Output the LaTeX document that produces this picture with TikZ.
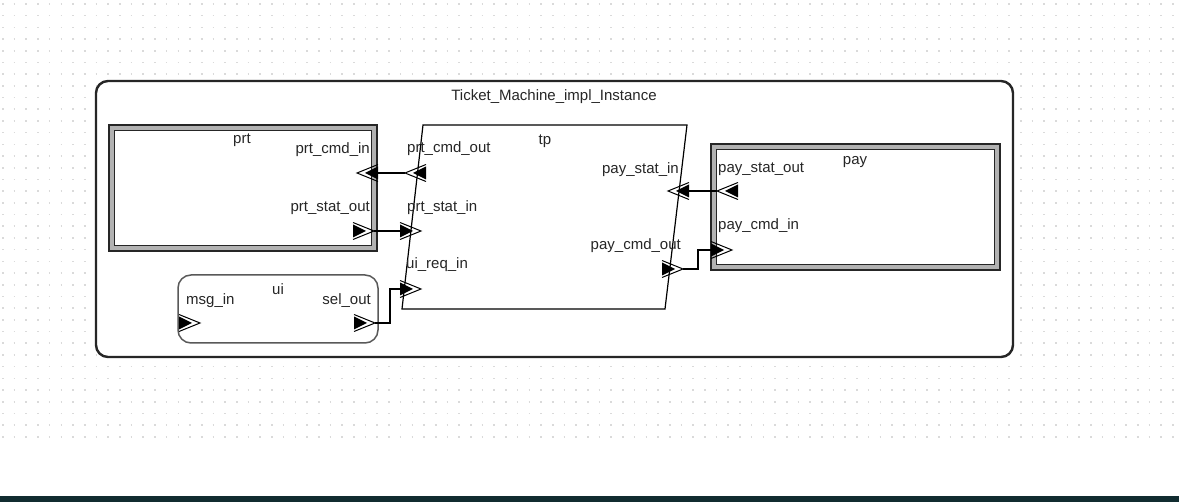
\documentclass[tikz,border=0pt]{standalone}
\usepackage{fontspec}
\setmainfont{Liberation Sans}
\definecolor{band}{HTML}{112C30}
\definecolor{ink}{HTML}{262626}
\definecolor{dotc}{HTML}{DADADA}
\begin{document}
\begin{tikzpicture}[x=1pt,y=-1pt,
  lbl/.style={font=\fontsize{15}{18}\selectfont, text=ink, inner sep=0pt},
  wire/.style={line width=1.2pt, draw=black},
  framebox/.style={fill=black!30, draw=black!85, line width=1.3pt},
  innerbox/.style={fill=white, draw=black!85, line width=1.3pt},
  portsym/.pic={\fill[black] (0,-6.5) -- (13,0) -- (0,6.5) -- cycle;
                \draw[line width=1pt, black] (0,-8.5) -- (21,0) -- (0,8.5);}]
\useasboundingbox (0,0) rectangle (1179,502);
\fill[white] (0,0) rectangle (1179,502);
% dotted grid
\foreach \k in {0,...,37}{
  \draw[dotc, line width=1.6pt, dash pattern=on 1.6pt off 10.1pt, dash phase=-2pt]
    (0,{4+11.7*\k}) -- (1179,{4+11.7*\k});
}
% bottom band
\fill[band] (0,496) rectangle (1179,502);
% outer system
\draw[fill=white, draw=ink, line width=2.4pt, rounded corners=12pt]
  (96,81) rectangle (1013,357);
\node[lbl, anchor=base] (title) at (554,101) {Ticket\_Machine\_impl\_Instance};
% prt
\draw[framebox] (109,125) rectangle (377,251);
\draw[innerbox] (114.5,130.5) rectangle (371.5,245.5);
\node[lbl, anchor=base] (prt) at (242,144) {prt};
\node[lbl, anchor=base east] (prtcmdinL) at (370,154) {prt\_cmd\_in};
\node[lbl, anchor=base east] (prtstatoutL) at (370,212) {prt\_stat\_out};
% pay
\draw[framebox] (711,144) rectangle (1000,270);
\draw[innerbox] (716.5,149.5) rectangle (994.5,264.5);
\node[lbl, anchor=base] (pay) at (855,165) {pay};
\node[lbl, anchor=base west] (paystatoutL) at (718,173) {pay\_stat\_out};
\node[lbl, anchor=base west] (paycmdinL) at (718,230) {pay\_cmd\_in};
% tp
\draw[line width=1.2pt, black] (423,125) -- (687,125) -- (665,309) -- (402,309) -- cycle;
\node[lbl, anchor=base] (tp) at (545,145) {tp};
\node[lbl, anchor=base west] (prtcmdoutL) at (407,153) {prt\_cmd\_out};
\node[lbl, anchor=base west] (prtstatinL) at (407,212) {prt\_stat\_in};
\node[lbl, anchor=base west] (uireqinL) at (406,269) {ui\_req\_in};
\node[lbl, anchor=base east] (paystatinL) at (679,174) {pay\_stat\_in};
\node[lbl, anchor=base east] (paycmdoutL) at (681,250) {pay\_cmd\_out};
% ui
\draw[draw=black!65, line width=1.5pt, fill=white, rounded corners=13pt]
  (178,275) rectangle (378,343);
\node[lbl, anchor=base] (ui) at (278,295) {ui};
\node[lbl, anchor=base west] (msginL) at (186,305) {msg\_in};
\node[lbl, anchor=base east] (seloutL) at (371,305) {sel\_out};
% port coordinates (base and tip)
\coordinate (prtcmdin) at (378,173);   \coordinate (prtcmdin-t) at (357,173);
\coordinate (prtcmdout) at (426,173);  \coordinate (prtcmdout-t) at (405,173);
\coordinate (prtstatout) at (353,231); \coordinate (prtstatout-t) at (374,231);
\coordinate (prtstatin) at (400,231);  \coordinate (prtstatin-t) at (421,231);
\coordinate (uireqin) at (400,289);    \coordinate (uireqin-t) at (421,289);
\coordinate (selout) at (354,323);     \coordinate (selout-t) at (375,323);
\coordinate (msgin) at (179,323);      \coordinate (msgin-t) at (200,323);
\coordinate (paystatin) at (689,191);  \coordinate (paystatin-t) at (668,191);
\coordinate (paystatout) at (738,191); \coordinate (paystatout-t) at (717,191);
\coordinate (paycmdout) at (662,269);  \coordinate (paycmdout-t) at (683,269);
\coordinate (paycmdin) at (711,250);   \coordinate (paycmdin-t) at (732,250);
% connectors
\draw[wire] (prtcmdin) -- (prtcmdout-t);
\draw[wire] (prtstatout-t) -- (prtstatin);
\draw[wire] (selout-t) -- ++(15,0) |- (uireqin);
\draw[wire] (paystatin) -- (paystatout-t);
\draw[wire] (paycmdout-t) -- ++(15,0) |- (paycmdin);
% port symbols
\pic[rotate=180] at (prtcmdin) {portsym};
\pic[rotate=180] at (prtcmdout) {portsym};
\pic at (prtstatout) {portsym};
\pic at (prtstatin) {portsym};
\pic at (uireqin) {portsym};
\pic at (selout) {portsym};
\pic at (msgin) {portsym};
\pic[rotate=180] at (paystatin) {portsym};
\pic[rotate=180] at (paystatout) {portsym};
\pic at (paycmdout) {portsym};
\pic at (paycmdin) {portsym};
\end{tikzpicture}
\end{document}
